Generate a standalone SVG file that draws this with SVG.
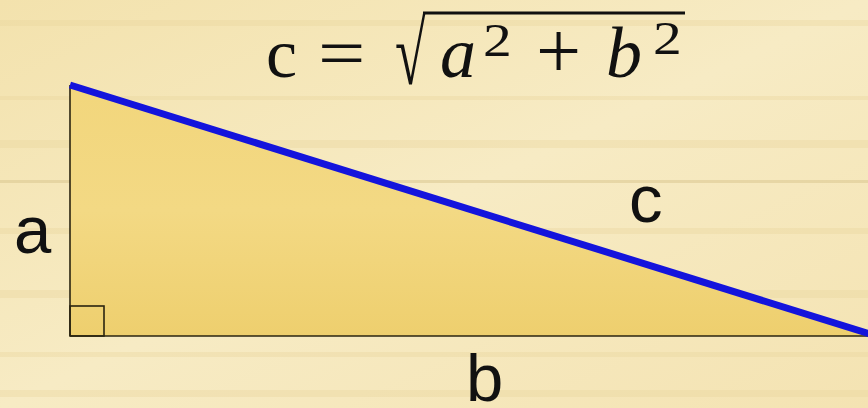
<svg xmlns="http://www.w3.org/2000/svg" width="868" height="408" viewBox="0 0 868 408">
  <defs>
    <linearGradient id="bg" x1="0" y1="0" x2="1" y2="1">
      <stop offset="0" stop-color="#f3e2ad"/>
      <stop offset="0.5" stop-color="#f7ebc4"/>
      <stop offset="1" stop-color="#f4e3b2"/>
    </linearGradient>
    <linearGradient id="tri" x1="0" y1="0" x2="0" y2="1">
      <stop offset="0" stop-color="#f2d67c"/>
      <stop offset="0.5" stop-color="#f3d984"/>
      <stop offset="1" stop-color="#eecf6e"/>
    </linearGradient>
    <style>
      .lbl { font-family: "Liberation Sans", Arial, sans-serif; font-size: 67px; fill: #111; }
      .math { font-family: "Liberation Serif", "Times New Roman", serif; fill: #111; }
      .it { font-style: italic; }
      .edge { stroke: #2a2410; stroke-width: 1.6; fill: none; }
      .streak { fill: #e8d49a; opacity: 0.35; }
    </style>
  </defs>

  <g id="background">
    <rect x="0" y="0" width="868" height="408" fill="url(#bg)"/>
    <rect class="streak" x="0" y="20" width="868" height="6"/>
    <rect class="streak" x="0" y="96" width="868" height="4"/>
    <rect class="streak" x="0" y="140" width="868" height="8"/>
    <rect x="0" y="180" width="868" height="3" fill="#d8c48c" opacity="0.5"/>
    <rect class="streak" x="0" y="228" width="868" height="6"/>
    <rect class="streak" x="0" y="290" width="868" height="8"/>
    <rect class="streak" x="0" y="352" width="868" height="5"/>
    <rect class="streak" x="0" y="390" width="868" height="7"/>
  </g>

  <g id="triangle">
    <polygon points="70,85 70,336 868,336 868,334" fill="url(#tri)"/>
    <line class="edge" x1="70" y1="85" x2="70" y2="336"/>
    <line class="edge" x1="70" y1="336" x2="868" y2="336"/>
    <rect class="edge" x="70" y="306" width="34" height="30"/>
  </g>

  <g id="connectors">
    <line id="hypotenuse" x1="70" y1="85" x2="870" y2="334" stroke="#1414dc" stroke-width="7" stroke-linecap="butt"/>
  </g>

  <g id="labels">
    <text class="lbl" x="14" y="253">a</text>
    <text class="lbl" x="629" y="222">c</text>
    <text class="lbl" x="466" y="401" font-size="64">b</text>
  </g>

  <g id="formula">
    <text class="math" x="266" y="77" font-size="70">c</text>
    <text class="math" x="0" y="0" font-size="70" transform="translate(318,77) scale(1.2,1)">=</text>
    <text class="math" x="0" y="0" font-size="90" font-weight="bold" transform="translate(395,84) scale(0.62,1)">√</text>
    <line x1="423" y1="13" x2="685" y2="13" stroke="#111" stroke-width="3"/>
    <text class="math it" x="440" y="77" font-size="72">a</text>
    <text class="math" x="0" y="0" font-size="46" transform="translate(483,56) scale(1.25,1)">2</text>
    <text class="math" x="536" y="78" font-size="80">+</text>
    <text class="math it" x="606" y="77" font-size="72">b</text>
    <text class="math" x="0" y="0" font-size="46" transform="translate(653,54) scale(1.25,1)">2</text>
  </g>
</svg>
